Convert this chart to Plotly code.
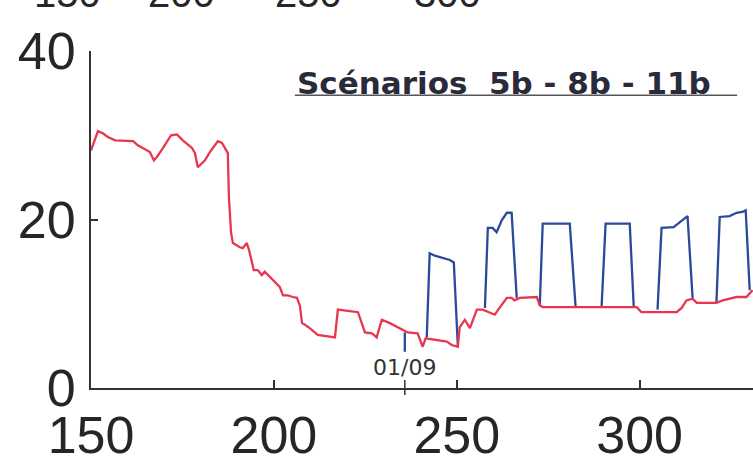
import plotly.graph_objects as go

# ---- data (day of year, value) ----
red_x = [150.0, 151.9, 153.3, 154.6, 156.6, 161.5, 162.8, 164.2, 166.1, 167.2, 168.0, 169.7,
         171.9, 173.5, 175.1, 177.6, 178.4, 179.2, 180.3, 181.1, 182.5, 183.3, 184.7, 185.8,
         186.6, 187.4, 187.7, 188.3, 188.8, 190.7, 191.5, 192.6, 193.2, 194.0, 194.5, 195.6,
         196.7, 197.5, 198.9, 200.3, 201.6, 202.5, 203.8, 205.2, 206.3, 207.1, 207.7, 208.5,
         209.8, 212.0, 216.1, 216.7, 217.5, 223.0, 224.9, 226.8, 228.1, 229.5, 231.7, 233.9,
         235.2, 236.6, 239.3, 240.7, 241.5, 243.2, 247.3, 248.6, 250.3, 250.8, 252.2, 253.6,
         255.5, 257.1, 259.0, 260.4, 261.7, 263.7, 265.0, 265.8, 267.2, 271.9, 272.7, 273.5,
         299.2, 300.5, 310.1, 311.5, 312.8, 314.5, 315.6, 321.0, 322.7, 324.6, 326.5, 329.2, 330.9]
red_y = [28.2, 30.5, 30.2, 29.8, 29.4, 29.3, 28.8, 28.5, 28.0, 27.0, 27.4, 28.5,
         30.0, 30.1, 29.4, 28.5, 27.9, 26.2, 26.7, 27.0, 28.0, 28.5, 29.3, 29.1,
         28.5, 27.9, 22.7, 18.4, 17.2, 16.7, 16.6, 17.2, 16.4, 14.9, 14.0, 14.0,
         13.4, 13.8, 13.2, 12.5, 12.0, 11.0, 11.0, 10.8, 10.7, 9.8, 7.7, 7.5,
         7.1, 6.3, 6.0, 6.0, 9.3, 9.0, 6.6, 6.5, 6.0, 8.1, 7.7, 7.2,
         7.0, 6.6, 6.5, 4.9, 5.9, 5.8, 5.5, 5.1, 4.9, 7.2, 8.1, 7.1,
         9.3, 9.3, 8.9, 8.7, 9.5, 10.7, 10.7, 10.4, 10.7, 10.8, 9.8, 9.6,
         9.6, 9.0, 9.0, 9.5, 10.4, 10.6, 10.1, 10.1, 10.4, 10.6, 10.8, 10.8, 11.6]

# blue pulses (None separates pulses)
blue_x = [235.8, 235.8, None,
          241.8, 242.6, 244.0, 245.4, 248.1, 249.2, 250.3, None,
          257.7, 258.5, 259.8, 260.9, 262.3, 263.7, 265.0, 266.4, None,
          272.7, 273.5, 280.9, 282.5, None,
          289.6, 290.7, 297.3, 298.4, None,
          304.9, 306.0, 309.3, 311.5, 313.1, 314.5, None,
          321.0, 321.9, 324.6, 326.5, 328.1, 329.0, 330.1]
blue_y = [6.6, 4.3, None,
          6.0, 16.0, 15.7, 15.5, 15.2, 14.9, 5.0, None,
          9.5, 19.0, 19.0, 18.5, 19.9, 20.8, 20.8, 10.7, None,
          9.8, 19.5, 19.5, 9.6, None,
          9.6, 19.5, 19.5, 9.6, None,
          9.3, 19.0, 19.1, 19.9, 20.4, 10.6, None,
          10.1, 20.3, 20.4, 20.8, 20.9, 21.1, 11.6]

x_ticks = [150, 200, 250, 300]
y_ticks = [0, 20, 40]
top_labels = ["150", "200", "250", "300"]
title_text = "Scénarios  5b - 8b - 11b"
date_label = "01/09"
date_x = 235.8

TXT = "#262626"
fig = go.Figure()
fig.add_trace(go.Scatter(x=blue_x, y=blue_y, mode="lines",
                         line=dict(color="#2b4a9c", width=2.3), connectgaps=False,
                         showlegend=False))
fig.add_trace(go.Scatter(x=red_x, y=red_y, mode="lines",
                         line=dict(color="#e8364f", width=2.3), showlegend=False))

fig.update_layout(
    width=753, height=461,
    margin=dict(l=91, r=0, t=51, b=73, autoexpand=False),
    paper_bgcolor="white", plot_bgcolor="white",
    xaxis=dict(range=[150, 331], tickvals=x_ticks, ticktext=[str(v) for v in x_ticks],
               showline=True, linecolor="#333", linewidth=2, ticks="inside", ticklen=8,
               tickwidth=1.5, tickcolor="#333", showgrid=False, zeroline=False,
               automargin=False,
               tickfont=dict(family="Liberation Sans, Arial", size=52, color=TXT),
               ticklabelstandoff=1),
    yaxis=dict(range=[0, 40], tickvals=y_ticks, showline=True, linecolor="#333",
               linewidth=2, ticks="inside", ticklen=7, tickwidth=1.5, tickcolor="#333",
               showgrid=False, zeroline=False, automargin=False,
               tickfont=dict(family="Liberation Sans, Arial", size=52, color=TXT),
               ticklabelstandoff=3),
)

# title with underline
fig.add_annotation(xref="paper", yref="paper", x=0.308, y=0.905, xanchor="left",
                   yanchor="middle", text=f"<b>{title_text}</b>", showarrow=False,
                   font=dict(family="DejaVu Sans", size=31, color="#2a2a3a"))
fig.add_shape(type="line", xref="paper", yref="paper", x0=0.308, x1=0.976,
              y0=0.869, y1=0.869, line=dict(color="#555", width=1.5))

# 01/09 marker
fig.add_annotation(x=date_x, y=2.4, xref="x", yref="y", text=date_label, showarrow=False,
                   font=dict(family="DejaVu Sans", size=22, color="#333"))
fig.add_shape(type="line", xref="x", yref="paper", x0=date_x, x1=date_x,
              y0=0.024, y1=-0.021, line=dict(color="#333", width=1.5))

# cut-off labels from the chart above
for lab, px in zip(top_labels, [-0.035, 0.136, 0.329, 0.538]):
    fig.add_annotation(xref="paper", yref="paper", x=px, y=1.172, xanchor="center",
                       yanchor="middle", text=lab, showarrow=False,
                       font=dict(family="Liberation Sans, Arial", size=40, color=TXT))

fig.write_html("out.html")
